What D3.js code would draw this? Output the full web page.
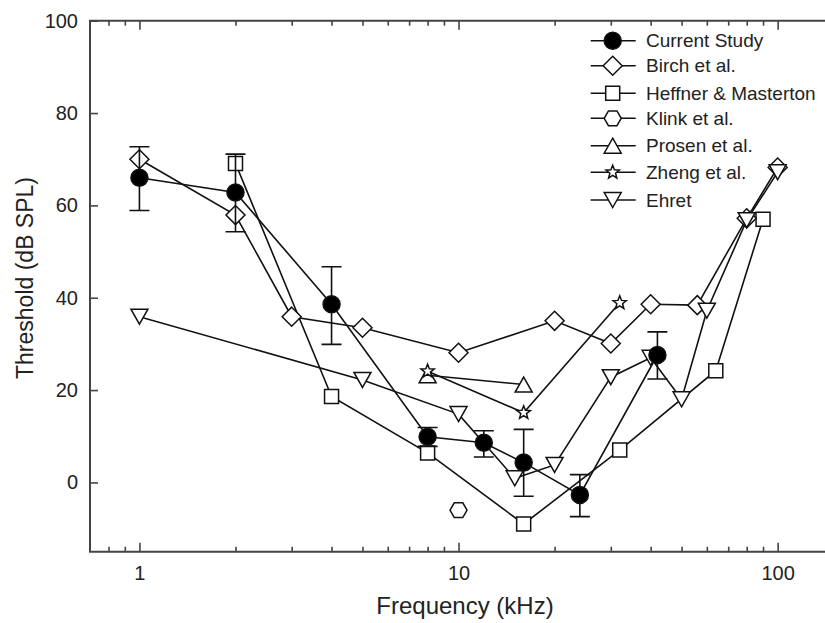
<!DOCTYPE html>
<html>
<head>
<meta charset="utf-8">
<script src="https://cdn.jsdelivr.net/npm/d3@7"></script>
<style>
  body { margin: 0; background: #fff; }
  svg { display: block; font-family: "Liberation Sans", Arial, sans-serif; }
  .tick text { fill: #222; }
</style>
</head>
<body>
<div id="chart"></div>
<script>
// valeurs
const labels = ["Current Study", "Birch et al.", "Heffner & Masterton", "Klink et al.", "Prosen et al.", "Zheng et al.", "Ehret"];

const freqCurrent = [1, 2, 4, 8, 12, 16, 24, 42];
const thrCurrent = [66, 62.8, 38.6, 9.9, 8.6, 4.3, -2.7, 27.6];
const errLowCurrent = [58.9, 54.3, 29.9, 7.8, 5.5, -3.0, -7.4, 22.4];
const errHighCurrent = [72.7, 71.1, 46.7, 11.9, 11.2, 11.5, 1.7, 32.6];

const freqBirch = [1, 2, 3, 5, 10, 20, 30, 40, 56, 80, 100];
const thrBirch = [70, 57.9, 35.9, 33.5, 28.1, 35, 30.1, 38.6, 38.4, 57.2, 68.2];

const freqHeffner = [2, 4, 8, 16, 32, 64, 90];
const thrHeffner = [69.1, 18.6, 6.4, -9.0, 7.0, 24.2, 57.0];

const freqKlink = [10];
const thrKlink = [-6];

const freqProsen = [8, 16];
const thrProsen = [23.2, 21.2];

const freqZheng = [8, 16, 32];
const thrZheng = [24.1, 15.1, 38.9];

const freqEhret = [1, 5, 10, 15, 20, 30, 40, 50, 60, 80, 100];
const thrEhret = [35.9, 22.2, 14.8, 0.9, 3.8, 22.8, 27.0, 18.0, 37.2, 56.8, 67.2];

const xMajor = [1, 10, 100];
const xMinor = [0.8, 0.9, 2, 3, 4, 5, 6, 7, 8, 9, 20, 30, 40, 50, 60, 70, 80, 90, 200];
const yTicks = [0, 20, 40, 60, 80, 100];

function zip(f, t) { return f.map((d, i) => ({ f: d, t: t[i] })); }

const series = [
  { name: labels[2], shape: "square", pts: zip(freqHeffner, thrHeffner) },
  { name: labels[1], shape: "diamond", pts: zip(freqBirch, thrBirch) },
  { name: labels[3], shape: "hexagon", pts: zip(freqKlink, thrKlink) },
  { name: labels[4], shape: "triUp", pts: zip(freqProsen, thrProsen) },
  { name: labels[5], shape: "star", pts: zip(freqZheng, thrZheng) },
  { name: labels[6], shape: "triDown", pts: zip(freqEhret, thrEhret) },
  { name: labels[0], shape: "circle", pts: zip(freqCurrent, thrCurrent) }
];
const legendShapes = ["circle", "diamond", "square", "hexagon", "triUp", "star", "triDown"];

const W = 825, H = 623;
const mLeft = 90, mTop = 20.7, mBottom = 551.7;

const svg = d3.select("#chart").append("svg")
  .attr("width", W)
  .attr("height", H);

const x = d3.scaleLog().domain([0.7, 200]).range([mLeft, 873.7]);
const y = d3.scaleLinear().domain([-15, 100]).range([mBottom, mTop]);

// forme des marqueurs
function shapePath(s) {
  if (s === "circle") return d3.symbol(d3.symbolCircle, Math.PI * 8.5 * 8.5)();
  if (s === "square") return "M-7,-7H7V7H-7Z";
  if (s === "diamond") return "M0,-9.5L9.5,0L0,9.5L-9.5,0Z";
  if (s === "triUp") return "M0,-7.5L8.5,7.5L-8.5,7.5Z";
  if (s === "triDown") return "M0,7.5L8.5,-7.5L-8.5,-7.5Z";
  if (s === "hexagon") {
    const r = 8.5;
    return d3.range(6).map((i, k) => {
      const a = Math.PI / 3 * i;
      return (k ? "L" : "M") + (r * Math.cos(a)).toFixed(2) + "," + (r * Math.sin(a)).toFixed(2);
    }).join("") + "Z";
  }
  if (s === "star") {
    let p = "";
    for (let i = 0; i < 10; i++) {
      const r = i % 2 ? 3 : 7;
      const a = -Math.PI / 2 + i * Math.PI / 5;
      p += (i ? "L" : "M") + (r * Math.cos(a)).toFixed(2) + "," + (r * Math.sin(a)).toFixed(2);
    }
    return p + "Z";
  }
}

// axes (ticks vers l'intérieur)
const axisColor = "#444";
function styleAxis(g) {
  g.select(".domain").remove();
  g.selectAll(".tick line").attr("stroke", axisColor).attr("stroke-width", 1.6);
  g.selectAll(".tick text").attr("font-size", 20);
}

svg.append("g")
  .attr("transform", `translate(0,${mBottom})`)
  .call(d3.axisBottom(x).tickValues(xMajor).tickFormat(d3.format("d")).tickSize(-9).tickPadding(14))
  .call(styleAxis);
svg.append("g")
  .attr("transform", `translate(0,${mBottom})`)
  .call(d3.axisBottom(x).tickValues(xMinor).tickFormat("").tickSize(-5))
  .call(styleAxis);
svg.append("g")
  .attr("transform", `translate(0,${mTop})`)
  .call(d3.axisTop(x).tickValues(xMajor).tickFormat("").tickSize(-9))
  .call(styleAxis);
svg.append("g")
  .attr("transform", `translate(0,${mTop})`)
  .call(d3.axisTop(x).tickValues(xMinor).tickFormat("").tickSize(-5))
  .call(styleAxis);
svg.append("g")
  .attr("transform", `translate(${mLeft},0)`)
  .call(d3.axisLeft(y).tickValues(yTicks).tickSize(-8).tickPadding(12))
  .call(styleAxis);

// cadre
svg.append("path")
  .attr("d", `M${W + 5},${mTop}H${mLeft}V${mBottom}H${W + 5}`)
  .attr("fill", "none")
  .attr("stroke", axisColor)
  .attr("stroke-width", 2);

// titres
svg.append("text")
  .attr("x", 465).attr("y", 614)
  .attr("text-anchor", "middle")
  .attr("font-size", 24)
  .attr("fill", "#222")
  .text("Frequency (kHz)");
svg.append("text")
  .attr("transform", "translate(33,278) rotate(-90)")
  .attr("text-anchor", "middle")
  .attr("font-size", 23)
  .attr("fill", "#222")
  .text("Threshold (dB SPL)");

// séries
const line = d3.line().x(d => x(d.f)).y(d => y(d.t));
const plot = svg.append("g");

series.forEach(s => {
  const g = plot.append("g");
  g.append("path")
    .attr("d", line(s.pts))
    .attr("fill", "none")
    .attr("stroke", "#111")
    .attr("stroke-width", 1.6);

  if (s.shape === "circle") {
    // barres d'erreur
    const eb = g.selectAll(".err")
      .data(freqCurrent.map((f, i) => ({ f: f, lo: errLowCurrent[i], hi: errHighCurrent[i] })))
      .enter().append("g");
    eb.append("path")
      .attr("d", d => `M${x(d.f)},${y(d.lo)}V${y(d.hi)}M${x(d.f) - 10},${y(d.lo)}h20M${x(d.f) - 10},${y(d.hi)}h20`)
      .attr("fill", "none")
      .attr("stroke", "#111")
      .attr("stroke-width", 1.6);
  }

  g.selectAll(".pt")
    .data(s.pts)
    .enter().append("path")
    .attr("transform", d => `translate(${x(d.f)},${y(d.t)})`)
    .attr("d", shapePath(s.shape))
    .attr("fill", s.shape === "circle" ? "#000" : "#fff")
    .attr("stroke", "#111")
    .attr("stroke-width", 1.5);
});

// légende
const legend = svg.append("g");
const legY = [40.7, 65.7, 93.3, 118.3, 145.7, 172.3, 200];
labels.forEach((lab, i) => {
  const row = legend.append("g").attr("transform", `translate(0,${legY[i]})`);
  row.append("line")
    .attr("x1", 590.7).attr("x2", 635.7)
    .attr("stroke", "#111").attr("stroke-width", 1.6);
  row.append("path")
    .attr("transform", "translate(612.7,0)")
    .attr("d", shapePath(legendShapes[i]))
    .attr("fill", legendShapes[i] === "circle" ? "#000" : "#fff")
    .attr("stroke", "#111")
    .attr("stroke-width", 1.5);
  row.append("text")
    .attr("x", 646).attr("dy", "0.35em")
    .attr("font-size", 19)
    .attr("fill", "#222")
    .text(lab);
});
</script>
</body>
</html>
